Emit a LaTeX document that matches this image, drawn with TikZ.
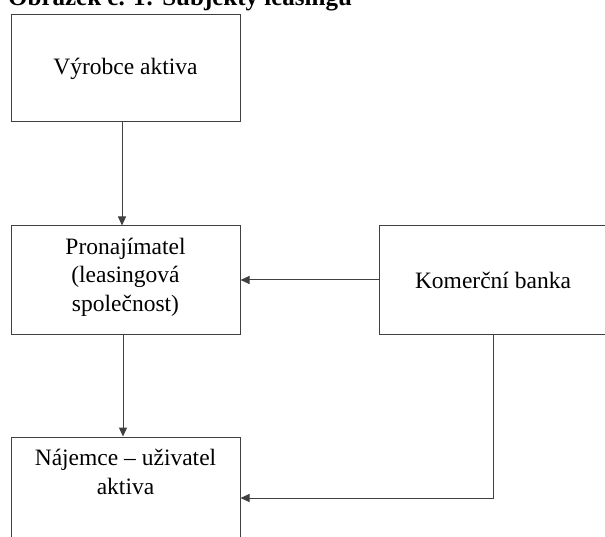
\documentclass[tikz,border=0pt]{standalone}
\usepackage{fontspec}
\setmainfont{Liberation Serif}
\usetikzlibrary{arrows.meta}
\begin{document}
\begin{tikzpicture}[x=1pt,y=-1pt,
  box/.style={draw=black!75, line width=1pt, minimum width=229pt, inner sep=0pt},
  txt/.style={font=\fontsize{23.5}{28.5}\selectfont, align=center, inner sep=0pt},
  arr/.style={draw=black!75, line width=1pt, -{Triangle[length=9pt,width=8pt]}}]
\useasboundingbox (0,0) rectangle (605,537);
\node[anchor=base west, inner sep=0pt, font=\fontsize{25}{30}\selectfont\bfseries] (title) at (8,6) {Obrázek č. 1: Subjekty leasingu};
\node[box, minimum height=107pt] (b1) at (125.5,68.5) {};
\node[txt] (t1) at (b1.center) {Výrobce aktiva};
\node[box, minimum height=108pt] (b2) at (125.5,280) {};
\node[txt] (t2) at (125.5,277) {Pronajímatel\\(leasingová\\společnost)};
\node[box, minimum height=108pt, minimum width=228pt] (b3) at (493,280) {};
\node[txt] (t3) at (b3.center) {Komerční banka};
\node[box, minimum height=108pt] (b4) at (125.5,491) {};
\node[txt] (t4) at (125.5,472) {Nájemce – uživatel\\aktiva};
\draw[arr] ([xshift=-3.5pt]b1.south) -- ([xshift=-3.5pt]b2.north);
\draw[arr] ([xshift=-2.5pt]b2.south) -- ([xshift=-2.5pt]b4.north);
\draw[arr] (b3.west) -- (b2.east);
\draw[arr] (b3.south) |- ([yshift=-7pt]b4.east);
\end{tikzpicture}
\end{document}
